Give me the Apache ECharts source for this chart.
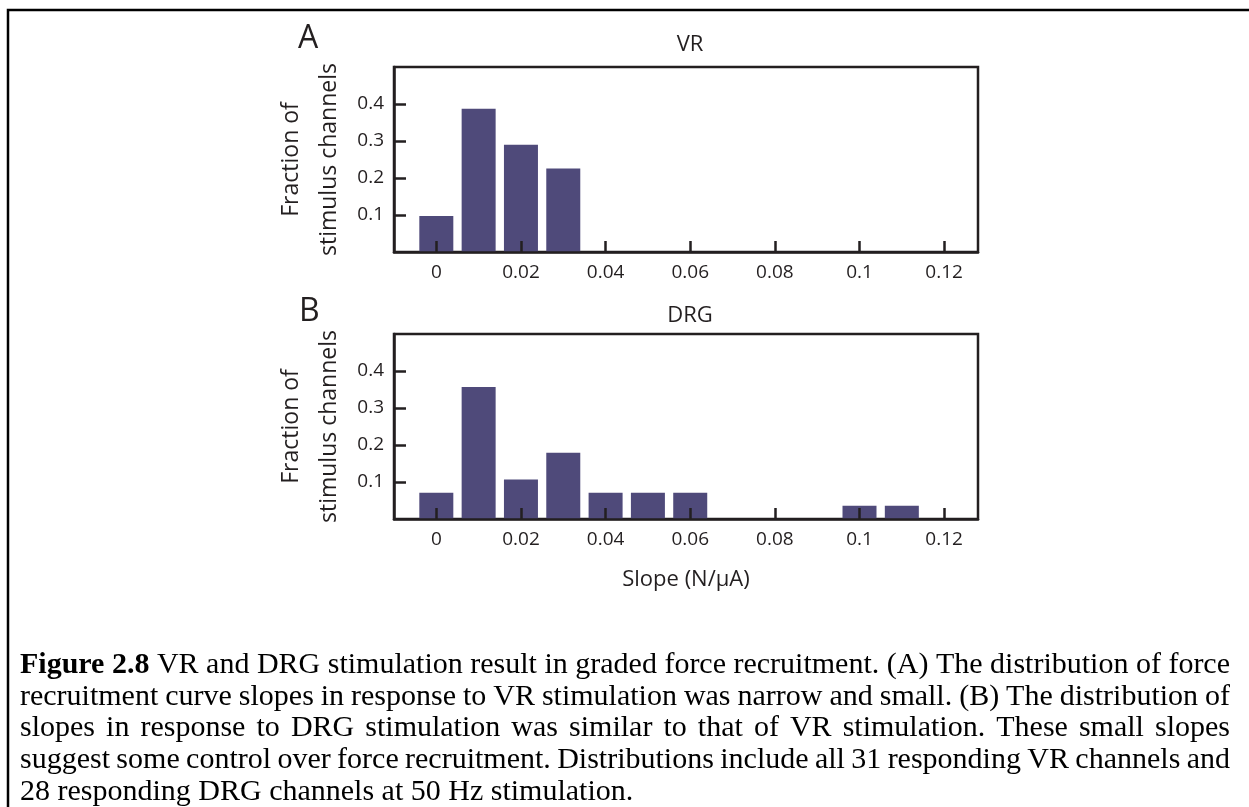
<!DOCTYPE html>
<html>
<head>
<meta charset="utf-8">
<script src="https://cdn.jsdelivr.net/npm/echarts@6/dist/echarts.min.js"></script>
<style>
html, body { margin: 0; padding: 0; background: #fff; }
#main { width: 1249px; height: 807px; }
</style>
</head>
<body>
<div id="main"></div>
<script>
// histogram bins (bin centre, N/uA) and fraction of channels
var binsVR = [0, 0.01, 0.02, 0.03];
var fracVR = [0.097, 0.387, 0.290, 0.226];
var binsDRG = [0, 0.01, 0.02, 0.03, 0.04, 0.05, 0.06, 0.10, 0.11];
var fracDRG = [0.071, 0.357, 0.107, 0.179, 0.071, 0.071, 0.071, 0.036, 0.036];

var xTicks = [0, 0.02, 0.04, 0.06, 0.08, 0.1, 0.12];
var xTickLabels = ['0', '0.02', '0.04', '0.06', '0.08', '0.1', '0.12'];
var yTicks = [0.1, 0.2, 0.3, 0.4];
var yTickLabels = ['0.1', '0.2', '0.3', '0.4'];

var panelLetters = ['A', 'B'];
var panelTitles = ['VR', 'DRG'];
var yName = 'Fraction of\nstimulus channels';
var xName = 'Slope (N/\u03bcA)';

var captionLines = [
    'Figure 2.8 VR and DRG stimulation result in graded force recruitment. (A) The distribution of force',
    'recruitment curve slopes in response to VR stimulation was narrow and small. (B) The distribution of',
    'slopes in response to DRG stimulation was similar to that of VR stimulation. These small slopes',
    'suggest some control over force recruitment. Distributions include all 31 responding VR channels and',
    '28 responding DRG channels at 50 Hz stimulation.'
];

var ink = '#231f20';
var barColor = '#4f4a7a';
var sans = '"Open Sans", sans-serif';

function pairs(xs, ys){
    var out = [];
    for(var i = 0; i < xs.length; i++){
        out.push([xs[i], ys[i]]);
    }
    return out;
}

function labelOf(values, labels){
    return function(v){
        for(var i = 0; i < values.length; i++){
            if(Math.abs(values[i] - v) < 1e-9) return labels[i];
        }
        return '';
    };
}

function makeX(gridIndex, withName){
    var ax = {
        type: 'value',
        gridIndex: gridIndex,
        min: -0.01,
        max: 0.128,
        z: 5,
        splitLine: {show: false},
        axisLine: {show: true, onZero: false, lineStyle: {color: ink, width: 2.5}},
        axisTick: {show: true, inside: true, length: 11, customValues: xTicks, lineStyle: {color: ink, width: 2.5}},
        axisLabel: {customValues: xTicks, formatter: labelOf(xTicks, xTickLabels), color: ink, fontFamily: sans, fontSize: 19, margin: 11}
    };
    if(withName){
        ax.name = xName;
        ax.nameLocation = 'middle';
        ax.nameGap = 50;
        ax.nameTextStyle = {color: ink, fontFamily: sans, fontSize: 22};
    }
    return ax;
}

function makeY(gridIndex){
    return {
        type: 'value',
        gridIndex: gridIndex,
        min: 0,
        max: 0.5,
        z: 5,
        splitLine: {show: false},
        axisLine: {show: true, onZero: false, lineStyle: {color: ink, width: 2.5}},
        axisTick: {show: true, inside: true, length: 12, customValues: yTicks, lineStyle: {color: ink, width: 2.5}},
        axisLabel: {customValues: yTicks, formatter: labelOf(yTicks, yTickLabels), color: ink, fontFamily: sans, fontSize: 19, margin: 10},
        name: yName,
        nameLocation: 'middle',
        nameGap: 46,
        nameTextStyle: {color: ink, fontFamily: sans, fontSize: 23, lineHeight: 38}
    };
}

// caption: justified lines, words placed one by one
function captionGraphics(){
    var ctx = document.createElement('canvas').getContext('2d');
    var size = 30, left = 20, right = 1230, top = 665, step = 31.8;
    var family = '"Liberation Serif", "Times New Roman", serif';
    var els = [];
    for(var l = 0; l < captionLines.length; l++){
        var words = captionLines[l].split(' ');
        var items = [];
        var total = 0;
        for(var w = 0; w < words.length; w++){
            var bold = (l == 0 && w < 2);
            ctx.font = (bold ? 'bold ' : '') + size + 'px ' + family;
            var wd = ctx.measureText(words[w]).width;
            items.push({t: words[w], bold: bold, w: wd});
            total += wd;
        }
        ctx.font = size + 'px ' + family;
        var gap = ctx.measureText(' ').width;
        if(l < captionLines.length - 1){
            gap = (right - left - total) / (words.length - 1);
        }
        var x = left;
        for(var k = 0; k < items.length; k++){
            els.push({
                type: 'text',
                x: x,
                y: top + l * step,
                style: {
                    text: items[k].t,
                    fill: '#000',
                    fontFamily: family,
                    fontSize: size,
                    fontWeight: items[k].bold ? 'bold' : 'normal',
                    verticalAlign: 'middle'
                }
            });
            x += items[k].w + gap;
        }
    }
    return els;
}

var myChart = echarts.init(document.getElementById('main'));

var graphics = [
    {type: 'polyline', shape: {points: [[8, 807], [8, 10], [1249, 10]]}, style: {stroke: '#000', lineWidth: 2.5, fill: null}},
    {type: 'text', x: 298, y: 39, style: {text: panelLetters[0], fill: ink, fontFamily: sans, fontSize: 32, verticalAlign: 'middle'}},
    {type: 'text', x: 299, y: 312, style: {text: panelLetters[1], fill: ink, fontFamily: sans, fontSize: 32, verticalAlign: 'middle'}}
].concat(captionGraphics());

var option = {
    animation: false,
    backgroundColor: '#fff',
    title: [
        {text: panelTitles[0], left: 685, top: 29, textAlign: 'center', textStyle: {color: ink, fontFamily: sans, fontSize: 22, fontWeight: 'normal'}},
        {text: panelTitles[1], left: 685, top: 300, textAlign: 'center', textStyle: {color: ink, fontFamily: sans, fontSize: 22, fontWeight: 'normal'}}
    ],
    grid: [
        {left: 394, top: 67, width: 584, height: 185, show: true, borderColor: ink, borderWidth: 2.5, backgroundColor: 'transparent'},
        {left: 394, top: 334, width: 584, height: 185, show: true, borderColor: ink, borderWidth: 2.5, backgroundColor: 'transparent'}
    ],
    xAxis: [makeX(0, false), makeX(1, true)],
    yAxis: [makeY(0), makeY(1)],
    series: [
        {
            name: panelTitles[0],
            type: 'bar',
            xAxisIndex: 0,
            yAxisIndex: 0,
            barWidth: 34,
            itemStyle: {color: barColor},
            data: pairs(binsVR, fracVR)
        },
        {
            name: panelTitles[1],
            type: 'bar',
            xAxisIndex: 1,
            yAxisIndex: 1,
            barWidth: 34,
            itemStyle: {color: barColor},
            data: pairs(binsDRG, fracDRG)
        }
    ],
    graphic: graphics
};

myChart.setOption(option);
</script>
</body>
</html>
